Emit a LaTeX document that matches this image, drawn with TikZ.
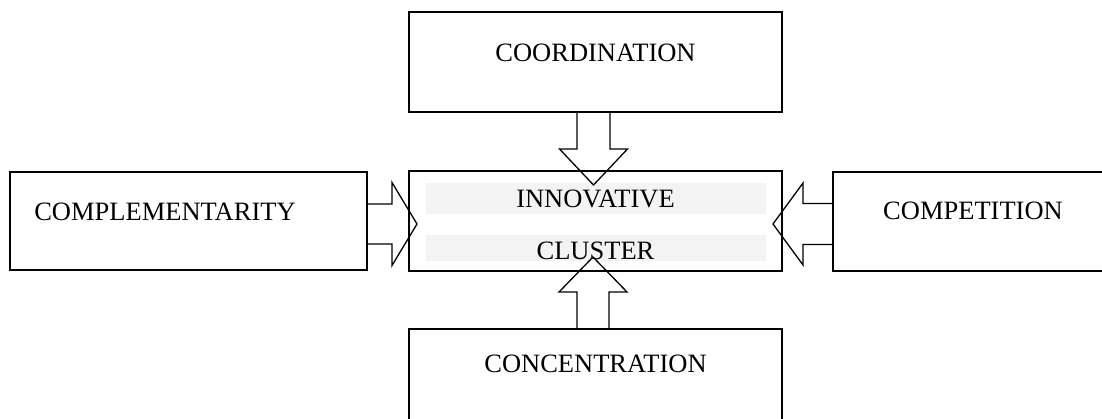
\documentclass[tikz,border=0pt]{standalone}
\usepackage{fontspec}
\setmainfont{Liberation Serif}
\usetikzlibrary{calc}

% Hollow block arrow: #1 start point, #2 direction angle, #3 shaft length,
% #4 total length, #5 shaft half-width, #6 head half-width
\newcommand{\blockarr}[6]{%
  \draw[arrowline,shift={(#1)},rotate=#2]
    (0,-#5) -- (#3,-#5) -- (#3,-#6) -- (#4,0) -- (#3,#6) -- (#3,#5) -- (0,#5);}

\begin{document}
\begin{tikzpicture}[x=1pt,y=-1pt,
  box/.style={draw=black,line width=2pt,fill=none,inner sep=0pt,outer sep=0pt},
  lbl/.style={inner sep=0pt,font=\fontsize{26.5}{30}\selectfont,anchor=base},
  bar/.style={fill={rgb,255:red,243;green,243;blue,243},draw=none},
  arrowline/.style={draw=black,line width=1.3pt,line join=miter}]

\useasboundingbox (0,0) rectangle (1102,419);
\clip (0,0) rectangle (1102,419);

% shaded bands behind the central label
\fill[bar] (426,183) rectangle (766,214);
\fill[bar] (426,235) rectangle (766,261);

% labels
\node[lbl] (tcoord) at (595.5,62)  {COORDINATION};
\node[lbl] (tcompl) at (165,221)   {COMPLEMENTARITY};
\node[lbl] (tcompe) at (973,220)   {COMPETITION};
\node[lbl] (tinno)  at (595.5,208) {INNOVATIVE};
\node[lbl] (tclus)  at (595.5,260) {CLUSTER};
\node[lbl] (tconc)  at (595.5,372) {CONCENTRATION};

% boxes
\node[box,minimum width=373pt,minimum height=100pt] (top)    at (595.5,62)  {};
\node[box,minimum width=373pt,minimum height=100pt] (center) at (595.5,221) {};
\node[box,minimum width=357pt,minimum height=98pt]  (left)   at (188.5,221) {};
\node[box,minimum width=280pt,minimum height=99pt]  (right)  at (973,221.5) {};
\node[box,minimum width=373pt,minimum height=110pt] (bottom) at (595.5,384) {};

% block arrows pointing into the central box
\blockarr{$(top.south)+(-2,0)$}{-90}{37}{73}{16.5}{34}
\blockarr{$(bottom.north)+(-2.5,0)$}{90}{37}{72}{16}{34}
\blockarr{$(left.east)+(0,3)$}{0}{25}{50}{20}{41.5}
\blockarr{$(right.west)+(0,2.5)$}{180}{30}{60}{20.5}{41}

\end{tikzpicture}
\end{document}
